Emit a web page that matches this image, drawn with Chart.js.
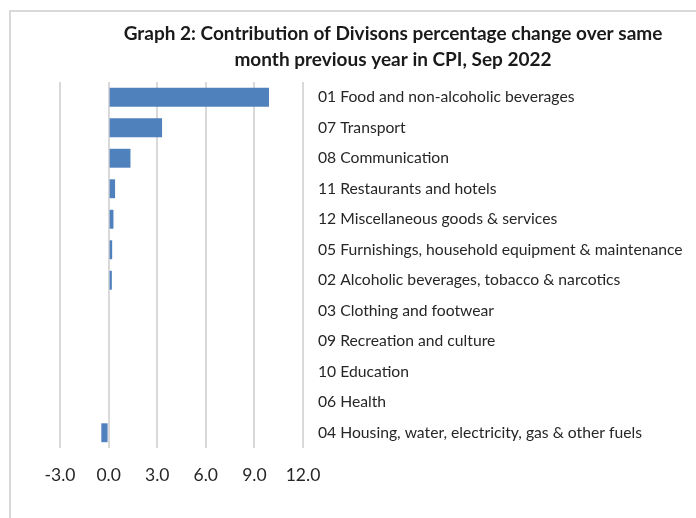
<!DOCTYPE html>
<html lang="en">
<head>
    <meta charset="UTF-8">
    <title>Graph 2: Contribution of Divisons, CPI Sep 2022</title>
    <script src="https://cdn.jsdelivr.net/npm/chart.js"></script>
    <style>
        html, body {
            margin: 0;
            padding: 0;
            background: #fff;
            overflow: hidden;
        }
        .frame {
            position: absolute;
            left: 9px;
            top: 10px;
            width: 800px;
            height: 600px;
            border: 2px solid #d9d9d9;
        }
        .wrap {
            position: absolute;
            left: 0;
            top: 0;
            width: 696px;
            height: 518px;
        }
    </style>
</head>
<body>
    <div class="frame"></div>
    <div class="wrap"><canvas id="cpiChart"></canvas></div>

    <script>
        // Divisiones y contribuciones (puntos porcentuales)
        const titleLines = [
            'Graph 2: Contribution of Divisons percentage change over same',
            'month previous year in CPI, Sep 2022'
        ];
        const divisions = [
            '01 Food and non-alcoholic beverages',
            '07 Transport',
            '08 Communication',
            '11 Restaurants and hotels',
            '12 Miscellaneous goods & services',
            '05 Furnishings, household equipment & maintenance',
            '02 Alcoholic beverages, tobacco & narcotics',
            '03 Clothing and footwear',
            '09 Recreation and culture',
            '10 Education',
            '06 Health',
            '04 Housing, water, electricity, gas & other fuels'
        ];
        const contributions = [9.9, 3.3, 1.35, 0.4, 0.3, 0.22, 0.2, 0, 0, 0, 0, -0.45];
        const xMin = -3, xMax = 12, xStep = 3;

        const fontFamily = "Lato, 'Open Sans', sans-serif";

        // Título dibujado a mano, centrado como en el original
        const titlePlugin = {
            id: 'titlePlugin',
            afterDraw(chart) {
                const ctx = chart.ctx;
                ctx.save();
                ctx.fillStyle = '#1a1a1a';
                ctx.font = 'bold 19px ' + fontFamily;
                ctx.textAlign = 'center';
                ctx.textBaseline = 'middle';
                ctx.fillText(titleLines[0], 393, 34);
                ctx.fillText(titleLines[1], 393, 60);
                ctx.restore();
            }
        };

        const ctx = document.getElementById('cpiChart').getContext('2d');
        new Chart(ctx, {
            type: 'bar',
            data: {
                labels: divisions,
                datasets: [{
                    data: contributions,
                    backgroundColor: '#4f81bd',
                    borderWidth: 0,
                    categoryPercentage: 1,
                    barPercentage: 0.62
                }]
            },
            options: {
                indexAxis: 'y',
                responsive: true,
                maintainAspectRatio: false,
                animation: false,
                layout: { padding: { left: 60, top: 82, right: 0, bottom: 15 } },
                plugins: {
                    legend: { display: false },
                    title: { display: false },
                    tooltip: { enabled: false }
                },
                scales: {
                    x: {
                        min: xMin,
                        max: xMax,
                        ticks: {
                            stepSize: xStep,
                            padding: 17,
                            color: '#262626',
                            font: { family: fontFamily, size: 17.5 },
                            callback: v => v.toFixed(1)
                        },
                        grid: { color: '#d9d9d9', lineWidth: 2, drawTicks: false },
                        border: { display: false }
                    },
                    y: {
                        position: 'right',
                        afterFit(scale) { scale.width = 393; },
                        ticks: {
                            padding: 15,
                            color: '#262626',
                            font: { family: fontFamily, size: 15.7 }
                        },
                        grid: { display: false, drawTicks: false },
                        border: { display: false }
                    }
                }
            },
            plugins: [titlePlugin]
        });
    </script>
</body>
</html>
